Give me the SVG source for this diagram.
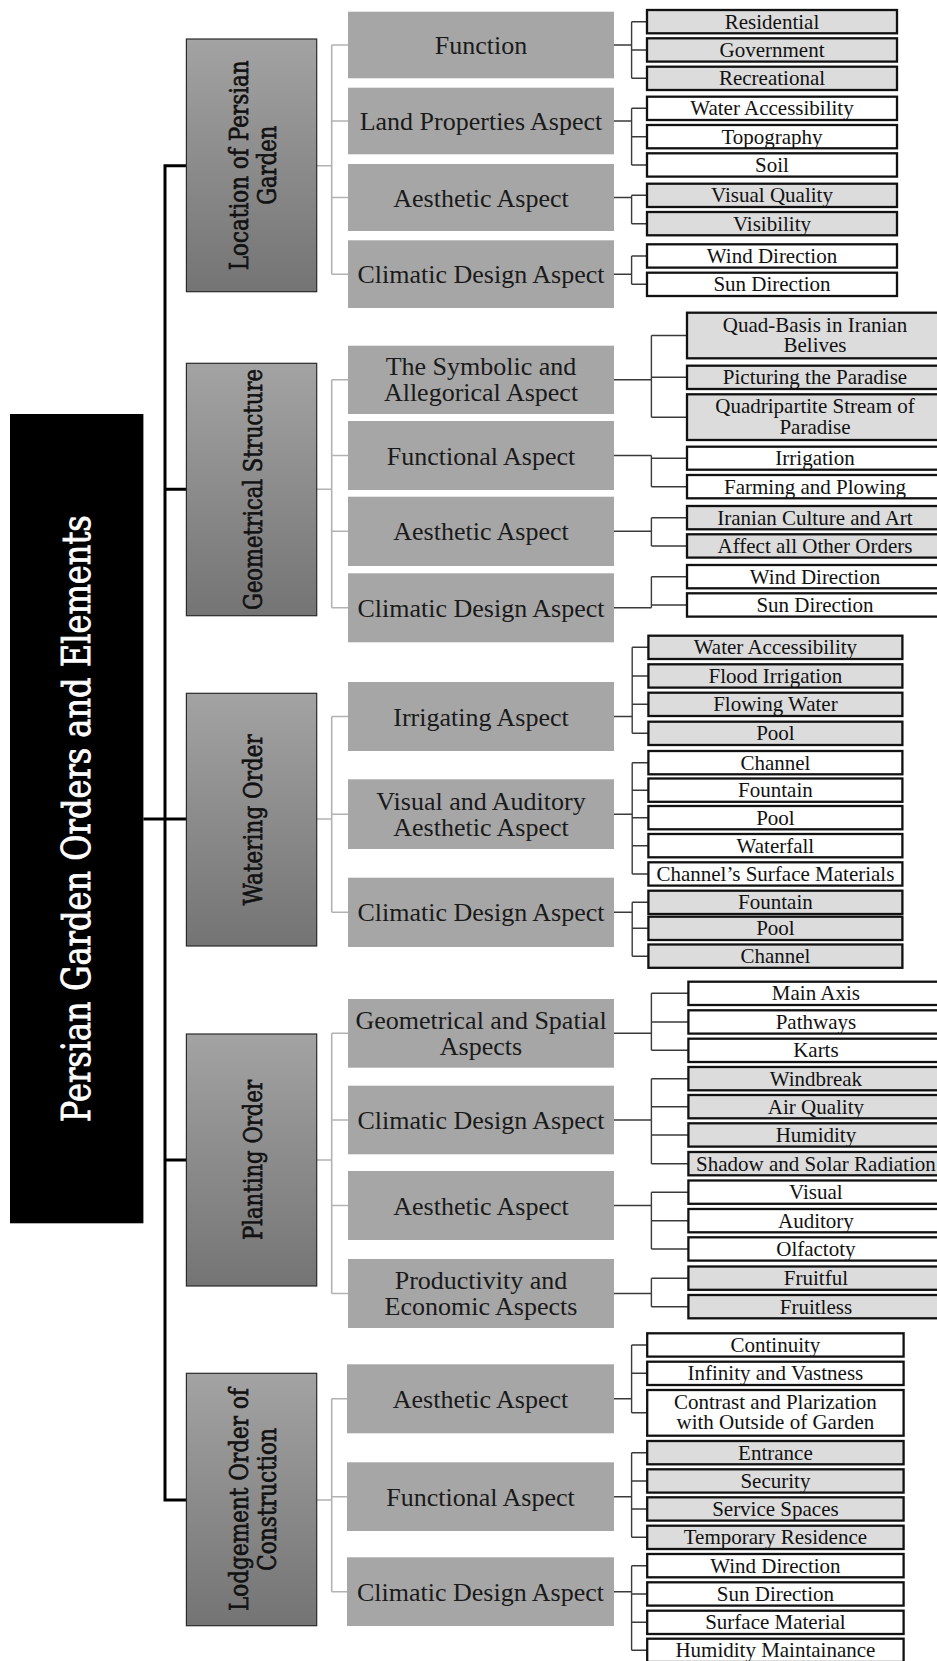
<svg xmlns="http://www.w3.org/2000/svg" width="937" height="1661" viewBox="0 0 937 1661">
  <defs>
    <linearGradient id="catGrad" x1="0" y1="0" x2="0" y2="1">
      <stop offset="0" stop-color="#a3a3a3"/>
      <stop offset="1" stop-color="#747474"/>
    </linearGradient>
    <style>
      .title { fill: #000; }
      .cat { fill: url(#catGrad); stroke: #2a2a2a; stroke-width: 1.2; }
      .mid { fill: #a6a6a6; }
      .lg { fill: #dcdcdc; stroke: #111; stroke-width: 2.3; }
      .lw { fill: #ffffff; stroke: #111; stroke-width: 2.3; }
      .trunk { fill: none; stroke: #000; stroke-width: 3; }
      .branch { fill: none; stroke: #b2b2b2; stroke-width: 1.6; }
      .twig { fill: none; stroke: #3a3a3a; stroke-width: 1.4; }
      text { font-family: "Liberation Serif", "Times New Roman", serif; text-anchor: middle; }
      .tt { font-family: "DejaVu Serif", serif; font-size: 32px; fill: #fff; stroke: #fff; stroke-width: 0.7; }
      .tc { font-family: "DejaVu Serif", serif; font-size: 21.5px; fill: #111; stroke: #111; stroke-width: 0.55; }
      .tm { font-size: 26px; fill: #1a1a1a; }
      .tl { font-size: 21px; fill: #111; }
    </style>
  </defs>

  <!-- connectors -->
  <g id="connectors">
    <!-- main trunk from the title to the five orders -->
    <path class="trunk" d="M186.4 165.7 H165 V1500 H186.4 M165 489.3 H186.4 M165 819 H186.4 M143.4 819 H165 M165 1160 H186.4"/>

    <!-- order to aspect branches -->
    <path class="branch" d="M316.7 165.7 H331.7 M331.7 45 V274.2 M331.7 45 H348 M331.7 121 H348 M331.7 197.5 H348 M331.7 274.2 H348"/>
    <path class="branch" d="M316.7 489.3 H331.7 M331.7 379.8 V607.8 M331.7 379.8 H348 M331.7 455.5 H348 M331.7 531.3 H348 M331.7 607.8 H348"/>
    <path class="branch" d="M316.7 819 H331.7 M331.7 716.5 V912.3 M331.7 716.5 H348 M331.7 814.2 H348 M331.7 912.3 H348"/>
    <path class="branch" d="M316.7 1160 H331.7 M331.7 1033.3 V1293.5 M331.7 1033.3 H348 M331.7 1120 H348 M331.7 1205.5 H348 M331.7 1293.5 H348"/>
    <path class="branch" d="M316.7 1500 H331.7 M331.7 1398.8 V1591.7 M331.7 1398.8 H347 M331.7 1496.7 H347 M331.7 1591.7 H347"/>

    <!-- aspect to element twigs: location -->
    <path class="twig" d="M614 45 H631.6 M631.6 21.7 V78.3 M631.6 21.7 H647 M631.6 50 H647 M631.6 78.3 H647"/>
    <path class="twig" d="M614 121 H631.6 M631.6 108.3 V165 M631.6 108.3 H647 M631.6 136.7 H647 M631.6 165 H647"/>
    <path class="twig" d="M614 197.5 H631.6 M631.6 195.3 V223.7 M631.6 195.3 H647 M631.6 223.7 H647"/>
    <path class="twig" d="M614 274.2 H631.6 M631.6 256 V284.3 M631.6 256 H647 M631.6 284.3 H647"/>
    <!-- geometrical structure -->
    <path class="twig" d="M614 379.8 H651.4 M651.4 335.5 V417.2 M651.4 335.5 H687 M651.4 377.3 H687 M651.4 417.2 H687"/>
    <path class="twig" d="M614 455.5 H651.4 M651.4 455.5 V486.7 M651.4 458.2 H687 M651.4 486.7 H687"/>
    <path class="twig" d="M614 531.3 H651.4 M651.4 517.7 V546 M651.4 517.7 H687 M651.4 546 H687"/>
    <path class="twig" d="M614 607.8 H651.4 M651.4 576.7 V607.8 M651.4 576.7 H687 M651.4 605 H687"/>
    <!-- watering order -->
    <path class="twig" d="M614 716.5 H632.2 M632.2 647.3 V733.3 M632.2 647.3 H648.4 M632.2 676 H648.4 M632.2 704.3 H648.4 M632.2 733.3 H648.4"/>
    <path class="twig" d="M614 814.2 H632.2 M632.2 762.7 V874 M632.2 762.7 H648.4 M632.2 790.2 H648.4 M632.2 817.7 H648.4 M632.2 845.7 H648.4 M632.2 874 H648.4"/>
    <path class="twig" d="M614 912.3 H632.2 M632.2 902.3 V956.2 M632.2 902.3 H648.4 M632.2 928.3 H648.4 M632.2 956.2 H648.4"/>
    <!-- planting order -->
    <path class="twig" d="M614 1033.3 H651.4 M651.4 993.3 V1050.3 M651.4 993.3 H688.4 M651.4 1022 H688.4 M651.4 1050.3 H688.4"/>
    <path class="twig" d="M614 1120 H651.4 M651.4 1078.7 V1163.7 M651.4 1078.7 H688.4 M651.4 1106.7 H688.4 M651.4 1135 H688.4 M651.4 1163.7 H688.4"/>
    <path class="twig" d="M614 1205.5 H651.4 M651.4 1192.2 V1249 M651.4 1192.2 H688.4 M651.4 1220.7 H688.4 M651.4 1249 H688.4"/>
    <path class="twig" d="M614 1293.5 H651.4 M651.4 1278.2 V1306.7 M651.4 1278.2 H688.4 M651.4 1306.7 H688.4"/>
    <!-- lodgement order -->
    <path class="twig" d="M614 1398.8 H631.6 M631.6 1345 V1412.8 M631.6 1345 H647.2 M631.6 1373.3 H647.2 M631.6 1412.8 H647.2"/>
    <path class="twig" d="M614 1496.7 H631.6 M631.6 1452.7 V1537.3 M631.6 1452.7 H647.2 M631.6 1481 H647.2 M631.6 1509 H647.2 M631.6 1537.3 H647.2"/>
    <path class="twig" d="M614 1591.7 H631.6 M631.6 1565.7 V1650.3 M631.6 1565.7 H647.2 M631.6 1594 H647.2 M631.6 1622.3 H647.2 M631.6 1650.3 H647.2"/>
  </g>

  <!-- root -->
  <g id="root">
    <rect class="title" x="10" y="414" width="133.4" height="809.3"/>
    <text class="tt" transform="translate(90,818.7) rotate(-90) scale(1,1.2)" textLength="607" lengthAdjust="spacingAndGlyphs">Persian Garden Orders and Elements</text>
  </g>

  <!-- order: location -->
  <g id="location">
    <rect class="cat" x="186.4" y="39" width="130.3" height="252.7"/>
    <text class="tc" transform="translate(248,165.3) rotate(-90) scale(1,1.25)" textLength="210" lengthAdjust="spacingAndGlyphs">Location of Persian</text>
    <text class="tc" transform="translate(276,165.3) rotate(-90) scale(1,1.25)" textLength="79" lengthAdjust="spacingAndGlyphs">Garden</text>
  </g>
  <g id="loc-function">
    <rect class="mid" x="348" y="11.7" width="266" height="66.6"/>
    <text class="tm" x="481" y="54">Function</text>
    <rect class="lg" x="647" y="10" width="250" height="23.3"/><text class="tl" x="772" y="28.7">Residential</text>
    <rect class="lg" x="647" y="38.3" width="250" height="23.3"/><text class="tl" x="772" y="57">Government</text>
    <rect class="lg" x="647" y="66.7" width="250" height="23.3"/><text class="tl" x="772" y="85.3">Recreational</text>
  </g>
  <g id="loc-land">
    <rect class="mid" x="348" y="87.7" width="266" height="66.6"/>
    <text class="tm" x="481" y="130">Land Properties Aspect</text>
    <rect class="lw" x="647" y="96.7" width="250" height="23.3"/><text class="tl" x="772" y="115.3">Water Accessibility</text>
    <rect class="lw" x="647" y="125" width="250" height="23.3"/><text class="tl" x="772" y="143.7">Topography</text>
    <rect class="lw" x="647" y="153.3" width="250" height="23.3"/><text class="tl" x="772" y="172">Soil</text>
  </g>
  <g id="loc-aesthetic">
    <rect class="mid" x="348" y="164" width="266" height="67"/>
    <text class="tm" x="481" y="206.5">Aesthetic Aspect</text>
    <rect class="lg" x="647" y="183.7" width="250" height="23.3"/><text class="tl" x="772" y="202.3">Visual Quality</text>
    <rect class="lg" x="647" y="212" width="250" height="23.3"/><text class="tl" x="772" y="230.7">Visibility</text>
  </g>
  <g id="loc-climatic">
    <rect class="mid" x="348" y="240.3" width="266" height="67.7"/>
    <text class="tm" x="481" y="283.2">Climatic Design Aspect</text>
    <rect class="lw" x="647" y="244.3" width="250" height="23.3"/><text class="tl" x="772" y="263">Wind Direction</text>
    <rect class="lw" x="647" y="272.7" width="250" height="23.3"/><text class="tl" x="772" y="291.3">Sun Direction</text>
  </g>

  <!-- order: geometrical structure -->
  <g id="geometry">
    <rect class="cat" x="186.4" y="363.3" width="130.3" height="252.4"/>
    <text class="tc" transform="translate(262,489.5) rotate(-90) scale(1,1.25)" textLength="241" lengthAdjust="spacingAndGlyphs">Geometrical Structure</text>
  </g>
  <g id="geo-symbolic">
    <rect class="mid" x="348" y="345.7" width="266" height="68.3"/>
    <text class="tm" x="481" y="375.3">The Symbolic and</text>
    <text class="tm" x="481" y="401.3">Allegorical Aspect</text>
    <rect class="lg" x="687" y="312.7" width="256" height="45.6"/><text class="tl" x="815" y="331.5">Quad-Basis in Iranian</text><text class="tl" x="815" y="352">Belives</text>
    <rect class="lg" x="687" y="365.7" width="256" height="23.3"/><text class="tl" x="815" y="384.3">Picturing the Paradise</text>
    <rect class="lg" x="687" y="394.3" width="256" height="45.7"/><text class="tl" x="815" y="413.2">Quadripartite Stream of</text><text class="tl" x="815" y="433.7">Paradise</text>
  </g>
  <g id="geo-functional">
    <rect class="mid" x="348" y="421" width="266" height="69"/>
    <text class="tm" x="481" y="464.5">Functional Aspect</text>
    <rect class="lw" x="687" y="446.7" width="256" height="23"/><text class="tl" x="815" y="465.2">Irrigation</text>
    <rect class="lw" x="687" y="475" width="256" height="23.3"/><text class="tl" x="815" y="493.7">Farming and Plowing</text>
  </g>
  <g id="geo-aesthetic">
    <rect class="mid" x="348" y="496.7" width="266" height="69.3"/>
    <text class="tm" x="481" y="540.3">Aesthetic Aspect</text>
    <rect class="lg" x="687" y="506" width="256" height="23.3"/><text class="tl" x="815" y="524.7">Iranian Culture and Art</text>
    <rect class="lg" x="687" y="534.3" width="256" height="23.3"/><text class="tl" x="815" y="553">Affect all Other Orders</text>
  </g>
  <g id="geo-climatic">
    <rect class="mid" x="348" y="573.3" width="266" height="69"/>
    <text class="tm" x="481" y="616.8">Climatic Design Aspect</text>
    <rect class="lw" x="687" y="565" width="256" height="23.3"/><text class="tl" x="815" y="583.7">Wind Direction</text>
    <rect class="lw" x="687" y="593.3" width="256" height="23.3"/><text class="tl" x="815" y="612">Sun Direction</text>
  </g>

  <!-- order: watering -->
  <g id="watering">
    <rect class="cat" x="186.4" y="693.3" width="130.3" height="252.7"/>
    <text class="tc" transform="translate(262,819.7) rotate(-90) scale(1,1.25)" textLength="171" lengthAdjust="spacingAndGlyphs">Watering Order</text>
  </g>
  <g id="wat-irrigating">
    <rect class="mid" x="348" y="682" width="266" height="69"/>
    <text class="tm" x="481" y="725.5">Irrigating Aspect</text>
    <rect class="lg" x="648.4" y="635.7" width="254" height="23.3"/><text class="tl" x="775.4" y="654.3">Water Accessibility</text>
    <rect class="lg" x="648.4" y="664.3" width="254" height="23.3"/><text class="tl" x="775.4" y="683">Flood Irrigation</text>
    <rect class="lg" x="648.4" y="692.7" width="254" height="23.3"/><text class="tl" x="775.4" y="711.3">Flowing Water</text>
    <rect class="lg" x="648.4" y="721.7" width="254" height="23.3"/><text class="tl" x="775.4" y="740.3">Pool</text>
  </g>
  <g id="wat-visual">
    <rect class="mid" x="348" y="779.3" width="266" height="69.7"/>
    <text class="tm" x="481" y="809.7">Visual and Auditory</text>
    <text class="tm" x="481" y="835.7">Aesthetic Aspect</text>
    <rect class="lw" x="648.4" y="751" width="254" height="23.3"/><text class="tl" x="775.4" y="769.7">Channel</text>
    <rect class="lw" x="648.4" y="778.5" width="254" height="23.3"/><text class="tl" x="775.4" y="797.2">Fountain</text>
    <rect class="lw" x="648.4" y="806" width="254" height="23.3"/><text class="tl" x="775.4" y="824.7">Pool</text>
    <rect class="lw" x="648.4" y="834" width="254" height="23.3"/><text class="tl" x="775.4" y="852.7">Waterfall</text>
    <rect class="lw" x="648.4" y="862.3" width="254" height="23.3"/><text class="tl" x="775.4" y="881">Channel’s Surface Materials</text>
  </g>
  <g id="wat-climatic">
    <rect class="mid" x="348" y="877.7" width="266" height="69.3"/>
    <text class="tm" x="481" y="921.3">Climatic Design Aspect</text>
    <rect class="lg" x="648.4" y="890.7" width="254" height="23.3"/><text class="tl" x="775.4" y="909.3">Fountain</text>
    <rect class="lg" x="648.4" y="916.7" width="254" height="23.3"/><text class="tl" x="775.4" y="935.3">Pool</text>
    <rect class="lg" x="648.4" y="944.5" width="254" height="23.3"/><text class="tl" x="775.4" y="963.2">Channel</text>
  </g>

  <!-- order: planting -->
  <g id="planting">
    <rect class="cat" x="186.4" y="1034" width="130.3" height="252"/>
    <text class="tc" transform="translate(262,1160) rotate(-90) scale(1,1.25)" textLength="160" lengthAdjust="spacingAndGlyphs">Planting Order</text>
  </g>
  <g id="pla-geometrical">
    <rect class="mid" x="348" y="999" width="266" height="68.7"/>
    <text class="tm" x="481" y="1028.8">Geometrical and Spatial</text>
    <text class="tm" x="481" y="1054.8">Aspects</text>
    <rect class="lw" x="688.4" y="981.7" width="255" height="23.3"/><text class="tl" x="815.9" y="1000.3">Main Axis</text>
    <rect class="lw" x="688.4" y="1010.3" width="255" height="23.3"/><text class="tl" x="815.9" y="1029">Pathways</text>
    <rect class="lw" x="688.4" y="1038.7" width="255" height="23.3"/><text class="tl" x="815.9" y="1057.3">Karts</text>
  </g>
  <g id="pla-climatic">
    <rect class="mid" x="348" y="1085.7" width="266" height="68.6"/>
    <text class="tm" x="481" y="1129">Climatic Design Aspect</text>
    <rect class="lg" x="688.4" y="1067" width="255" height="23.3"/><text class="tl" x="815.9" y="1085.7">Windbreak</text>
    <rect class="lg" x="688.4" y="1095" width="255" height="23.3"/><text class="tl" x="815.9" y="1113.7">Air Quality</text>
    <rect class="lg" x="688.4" y="1123.3" width="255" height="23.3"/><text class="tl" x="815.9" y="1142">Humidity</text>
    <rect class="lg" x="688.4" y="1152" width="255" height="23.3"/><text class="tl" x="815.9" y="1170.7">Shadow and Solar Radiation</text>
  </g>
  <g id="pla-aesthetic">
    <rect class="mid" x="348" y="1171" width="266" height="69"/>
    <text class="tm" x="481" y="1214.5">Aesthetic Aspect</text>
    <rect class="lw" x="688.4" y="1180.5" width="255" height="23.3"/><text class="tl" x="815.9" y="1199.2">Visual</text>
    <rect class="lw" x="688.4" y="1209" width="255" height="23.3"/><text class="tl" x="815.9" y="1227.7">Auditory</text>
    <rect class="lw" x="688.4" y="1237.3" width="255" height="23.3"/><text class="tl" x="815.9" y="1256">Olfactoty</text>
  </g>
  <g id="pla-productivity">
    <rect class="mid" x="348" y="1259" width="266" height="69"/>
    <text class="tm" x="481" y="1289">Productivity and</text>
    <text class="tm" x="481" y="1315">Economic Aspects</text>
    <rect class="lg" x="688.4" y="1266.5" width="255" height="23.3"/><text class="tl" x="815.9" y="1285.2">Fruitful</text>
    <rect class="lg" x="688.4" y="1295" width="255" height="23.3"/><text class="tl" x="815.9" y="1313.7">Fruitless</text>
  </g>

  <!-- order: lodgement -->
  <g id="lodgement">
    <rect class="cat" x="186.4" y="1373.3" width="130.3" height="252.4"/>
    <text class="tc" transform="translate(248,1499.5) rotate(-90) scale(1,1.25)" textLength="223" lengthAdjust="spacingAndGlyphs">Lodgement Order of</text>
    <text class="tc" transform="translate(276,1499.5) rotate(-90) scale(1,1.25)" textLength="143" lengthAdjust="spacingAndGlyphs">Construction</text>
  </g>
  <g id="lod-aesthetic">
    <rect class="mid" x="347" y="1364.3" width="267" height="69"/>
    <text class="tm" x="480.5" y="1407.8">Aesthetic Aspect</text>
    <rect class="lw" x="647.2" y="1333.3" width="256.4" height="23.3"/><text class="tl" x="775.4" y="1352">Continuity</text>
    <rect class="lw" x="647.2" y="1361.7" width="256.4" height="23.3"/><text class="tl" x="775.4" y="1380.3">Infinity and Vastness</text>
    <rect class="lw" x="647.2" y="1390" width="256.4" height="45.7"/><text class="tl" x="775.4" y="1408.8">Contrast and Plarization</text><text class="tl" x="775.4" y="1429.3">with Outside of Garden</text>
  </g>
  <g id="lod-functional">
    <rect class="mid" x="347" y="1462.3" width="267" height="68.7"/>
    <text class="tm" x="480.5" y="1505.7">Functional Aspect</text>
    <rect class="lg" x="647.2" y="1441" width="256.4" height="23.3"/><text class="tl" x="775.4" y="1459.7">Entrance</text>
    <rect class="lg" x="647.2" y="1469.3" width="256.4" height="23.3"/><text class="tl" x="775.4" y="1488">Security</text>
    <rect class="lg" x="647.2" y="1497.3" width="256.4" height="23.3"/><text class="tl" x="775.4" y="1516">Service Spaces</text>
    <rect class="lg" x="647.2" y="1525.7" width="256.4" height="23.3"/><text class="tl" x="775.4" y="1544.3">Temporary Residence</text>
  </g>
  <g id="lod-climatic">
    <rect class="mid" x="347" y="1557.3" width="267" height="68.7"/>
    <text class="tm" x="480.5" y="1600.7">Climatic Design Aspect</text>
    <rect class="lw" x="647.2" y="1554" width="256.4" height="23.3"/><text class="tl" x="775.4" y="1572.7">Wind Direction</text>
    <rect class="lw" x="647.2" y="1582.3" width="256.4" height="23.3"/><text class="tl" x="775.4" y="1601">Sun Direction</text>
    <rect class="lw" x="647.2" y="1610.7" width="256.4" height="23.3"/><text class="tl" x="775.4" y="1629.3">Surface Material</text>
    <rect class="lw" x="647.2" y="1638.7" width="256.4" height="23.3"/><text class="tl" x="775.4" y="1657.3">Humidity Maintainance</text>
  </g>
</svg>
